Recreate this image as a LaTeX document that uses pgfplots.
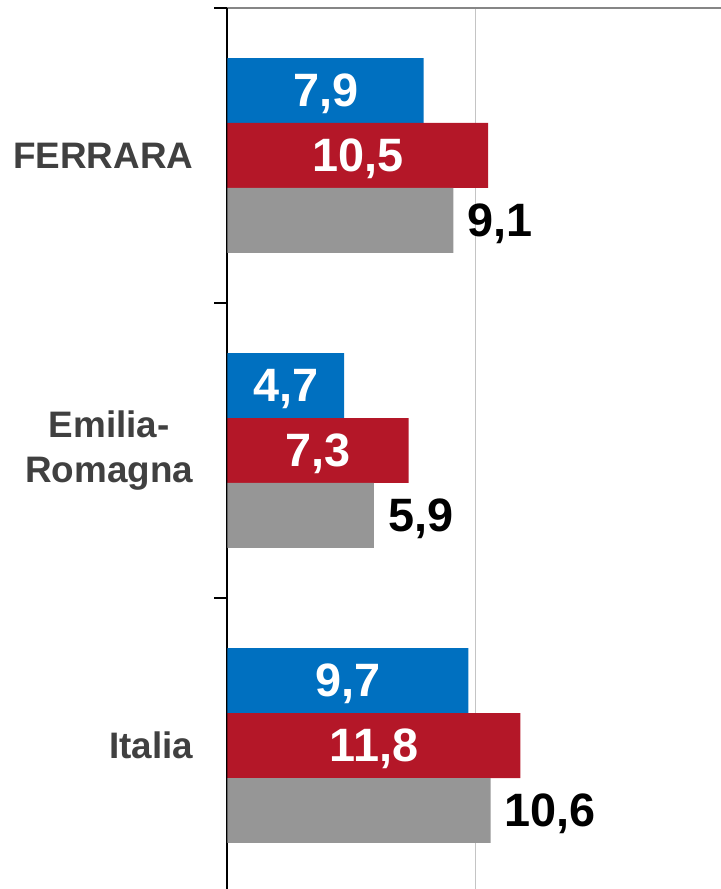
\documentclass[border=0pt]{standalone}
\usepackage{fontspec}
\setmainfont{Liberation Sans}
\usepackage{pgfplots}
\usepackage{pgfplotstable}
\pgfplotsset{compat=1.18}
\definecolor{cblue}{HTML}{0070C0}
\definecolor{cred}{HTML}{B41728}
\definecolor{cgray}{HTML}{969696}
\definecolor{clab}{HTML}{404040}
\definecolor{caxis}{HTML}{868686}
\definecolor{cgrid}{HTML}{C4C4C4}

% y: 2 = FERRARA, 1 = Emilia-Romagna, 0 = Italia
\pgfplotstableread{
y v
2 7.9
1 4.7
0 9.7
}\tblue
\pgfplotstableread{
y v
2 10.5
1 7.3
0 11.8
}\tred
\pgfplotstableread{
y v
2 9.1
1 5.9
0 10.6
}\tgray

\begin{document}
\begin{tikzpicture}
\begin{axis}[
  name=ax,
  scale only axis,
  width=493.5bp, height=881bp,
  xmin=0, xmax=19.88,
  ymin=-0.4864, ymax=2.5,
  axis x line*=top,
  axis y line*=left,
  x axis line style={draw=caxis, line width=2.5bp, -},
  y axis line style={draw=black, line width=2bp, -},
  xtick={10}, xticklabels={},
  xmajorgrids,
  major grid style={draw=cgrid, line width=1.5bp},
  ytick={0,1,2},
  yticklabels={Italia,{Emilia-\\Romagna},FERRARA},
  minor ytick={-0.5,0.5,1.5,2.5},
  major tick length=0pt,
  minor tick length=13bp,
  tick align=outside,
  minor tick style={draw=black, line width=1.5bp},
  yticklabel style={font=\fontsize{37}{45}\selectfont\bfseries, text=clab, align=center, inner sep=0pt, xshift=-34bp},
  clip=false,
  bar width=0.2203,
  /pgf/number format/assume math mode=true,
  /pgf/number format/use comma,
  /pgf/number format/fixed,
  /pgf/number format/fixed zerofill,
  /pgf/number format/precision=1,
]
\addplot[xbar, bar shift=0.2203, fill=cblue, draw=none,
  point meta=x, nodes near coords,
  visualization depends on={\thisrow{v} \as \vv},
  every node near coord/.append style={anchor=center, text depth=0pt, inner sep=0pt,
     font=\fontsize{47}{56}\selectfont\bfseries, text=white, xshift=-\vv*12.41bp, yshift=65bp}]
  table[x=v, y=y]{\tblue};
\addplot[xbar, bar shift=0, fill=cred, draw=none,
  point meta=x, nodes near coords,
  visualization depends on={\thisrow{v} \as \vv},
  every node near coord/.append style={anchor=center, text depth=0pt, inner sep=0pt,
     font=\fontsize{47}{56}\selectfont\bfseries, text=white, xshift=-\vv*12.41bp}]
  table[x=v, y=y]{\tred};
\addplot[xbar, bar shift=-0.2203, fill=cgray, draw=none,
  point meta=x, nodes near coords,
  every node near coord/.append style={anchor=west, text depth=0pt, inner sep=0pt,
     font=\fontsize{47}{56}\selectfont\bfseries, text=black, xshift=14bp, yshift=-65bp}]
  table[x=v, y=y]{\tgray};
\end{axis}
\pgfresetboundingbox
\path[use as bounding box] ([xshift=-227.5bp]ax.south west) rectangle ([yshift=8bp]ax.north east);
\end{tikzpicture}
\end{document}
